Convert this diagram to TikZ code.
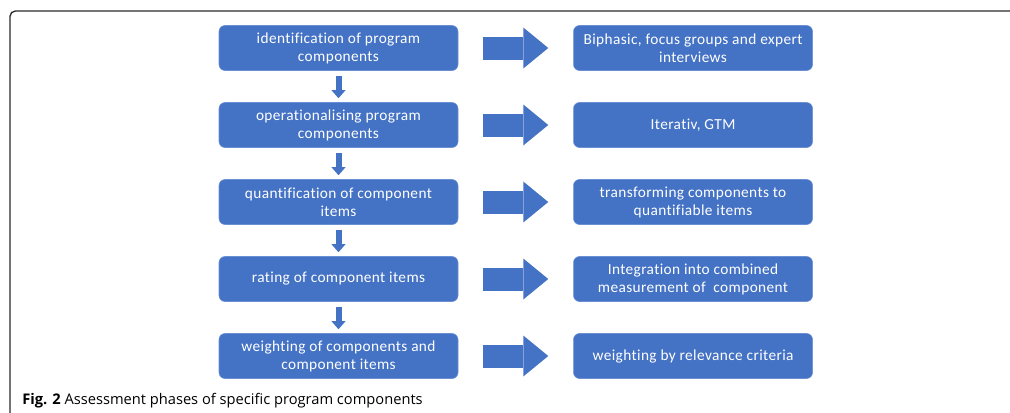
\documentclass[tikz,border=0pt]{standalone}
\usepackage{fontspec}
\setmainfont{Carlito}[Ligatures=CommonOff, LetterSpace=2.5]
\newfontfamily\capfont{Open Sans}
\usetikzlibrary{positioning,arrows.meta}

\definecolor{boxblue}{HTML}{4472C4}
\definecolor{boxedge}{HTML}{6A8FD2}
\definecolor{framegray}{HTML}{2B2B2B}

\tikzset{
  stagebox/.style={rectangle, rounded corners=4.5pt, fill=boxblue, draw=boxedge, line width=0.4pt,
    minimum width=179.25pt, minimum height=33.75pt, align=center, text=white, inner sep=0pt,
    font=\fontsize{11.5}{13.5}\selectfont},
  blockarrow/.style={draw=boxblue, line width=17.25pt,
    -{Triangle[length=18.75pt, width=30.75pt, line width=0pt]}, shorten <=18.75pt, shorten >=18.75pt},
  downarrow/.style={draw=boxblue, line width=4.5pt,
    -{Triangle[length=6pt, width=10.5pt, line width=0pt]}, shorten <=3.75pt, shorten >=3pt}
}

\begin{document}
\begin{tikzpicture}[x=0.75pt, y=-0.75pt, node distance=23.6pt]
    \useasboundingbox (0,0) rectangle (1010,412);

    % Frame
    \draw[framegray, line width=1pt, rounded corners=4pt] (1014,11) -- (10,11) -- (10,416);

    % Phases
    \node[stagebox] (ident) at (338.5,48) {identification of program\\components};
    \node[stagebox, below=of ident] (oper) {operationalising program\\components};
    \node[stagebox, below=of oper] (quant) {quantification of component\\items};
    \node[stagebox, below=of quant] (rate) {rating of component items};
    \node[stagebox, below=of rate] (weight) {weighting of components and\\component items};

    % Methods
    \node[stagebox, right=86.25pt of ident] (biph) {Biphasic, focus groups and expert\\interviews};
    \node[stagebox, right=86.25pt of oper] (iter) {Iterativ, GTM};
    \node[stagebox, right=86.25pt of quant] (trans) {transforming components to\\quantifiable items};
    \node[stagebox, right=86.25pt of rate] (integ) {Integration into combined\\measurement of\ \ component};
    \node[stagebox, right=86.25pt of weight] (relev) {weighting by relevance criteria};

    % Sequence
    \draw[downarrow] (ident) -- (oper);
    \draw[downarrow] (oper) -- (quant);
    \draw[downarrow] (quant) -- (rate);
    \draw[downarrow] (rate) -- (weight);

    % Phase to method
    \draw[blockarrow] (ident) -- (biph);
    \draw[blockarrow] (oper) -- (iter);
    \draw[blockarrow] (quant) -- (trans);
    \draw[blockarrow] (rate) -- (integ);
    \draw[blockarrow] (weight) -- (relev);

    % Caption
    \node[anchor=base west, inner sep=0pt, font=\capfont\fontsize{11}{13}\selectfont] (caption) at (22,404)
      {\textbf{Fig. 2} Assessment phases of specific program components};
\end{tikzpicture}
\end{document}
